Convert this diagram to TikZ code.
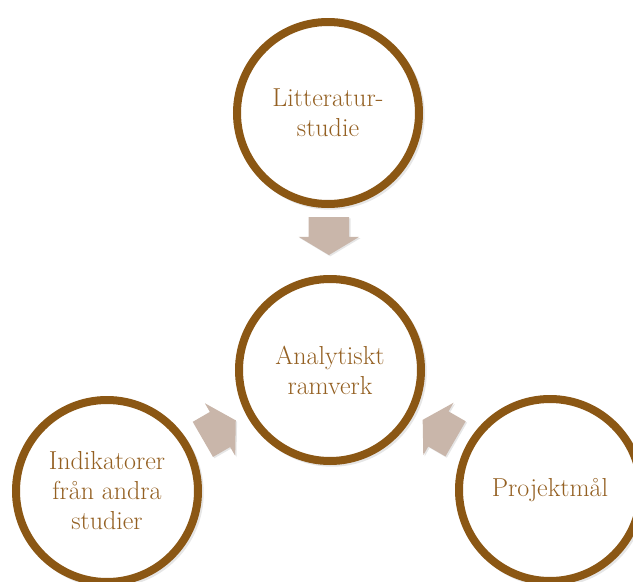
\documentclass[tikz,border=0pt]{standalone}
\usepackage{tikz}
\usetikzlibrary{shapes,arrows,calc,positioning,shadows}
\definecolor{ringbrown}{RGB}{139,87,20}
\definecolor{textbrown}{RGB}{148,96,34}
\definecolor{arrowtan}{RGB}{201,182,170}

\begin{document}
\begin{tikzpicture}[x=0.75pt,y=-0.75pt,
  topic/.style={circle,draw=ringbrown,line width=6pt,fill=white,minimum size=136.5pt,inner sep=0pt,
    align=center,text=textbrown,font=\fontsize{19.5}{22.5}\selectfont,
    drop shadow={opacity=0.2,shadow scale=1.04,shadow xshift=1.5pt,shadow yshift=-1.5pt}},
  flow/.style={single arrow,fill=arrowtan,draw=none,inner xsep=0pt,inner ysep=15pt,minimum height=28.5pt,
    single arrow head extend=7.5pt,single arrow tip angle=118,
    drop shadow={opacity=0.2,shadow xshift=1pt,shadow yshift=-1pt}}]

        \clip (0,0) rectangle (633,582);

        \node[topic] (lit) at (328,113) {Litteratur-\\studie};
        \node[topic] (ana) at (330,370) {Analytiskt\\ramverk};
        \node[topic] (ind) at (107,491) {Indikatorer\\från andra\\studier};
        \node[topic] (proj) at (550,490) {Projektmål};

        \node[flow,rotate=-90] (toana) at ($(lit)!0.455!(ana)$) {};
        \node[flow,rotate=30] (fromind) at ($(ind)!0.48!(ana)$) {};
        \node[flow,rotate=150] (fromproj) at ($(proj)!0.48!(ana)$) {};
      \end{tikzpicture}
\end{document}
